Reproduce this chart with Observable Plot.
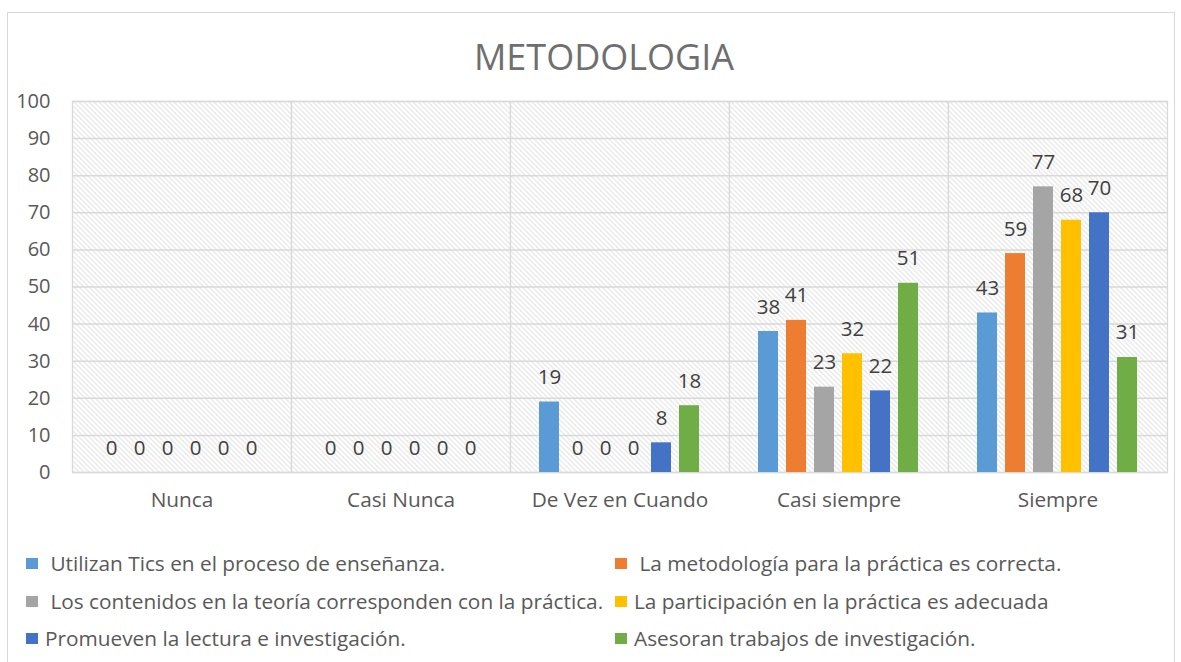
<!DOCTYPE html>
<html>
<head>
<meta charset="utf-8">
<script src="https://cdn.jsdelivr.net/npm/d3@7"></script>
<script src="https://cdn.jsdelivr.net/npm/@observablehq/plot@0.6"></script>
<style>
  body { margin: 0; background: #fff; font-family: "Open Sans", sans-serif; }
  #wrap { position: relative; width: 1181px; height: 662px; overflow: hidden; }
  #border { position: absolute; left: 7px; top: 12px; width: 1168px; height: 700px; border: 1px solid #d9d9d9; box-sizing: border-box; }
  #title { position: absolute; left: 0; width: 1208px; top: 32px; text-align: center; font-size: 36px; line-height: 50px; color: #6f6f6f; font-weight: 400; }
  #chart { position: absolute; left: 0; top: 80px; }
  .leg { position: absolute; display: flex; align-items: center; font-size: 20.8px; color: #595959; white-space: pre; }
  .sw { width: 12px; height: 11px; display: inline-block; margin-right: 7px; }
</style>
</head>
<body>
<div id="wrap">
  <div id="border"></div>
  <div id="title">METODOLOGIA</div>
  <div id="chart"></div>
  <div id="legend"></div>
</div>
<script>
const categories = ["Nunca", "Casi Nunca", "De Vez en Cuando", "Casi siempre", "Siempre"];
const seriesNames = [
  " Utilizan Tics en el proceso de enseñanza.",
  " La metodología para la práctica es correcta.",
  " Los contenidos en la teoría corresponden con la práctica.",
  "La participación en la práctica es adecuada",
  "Promueven la lectura e investigación.",
  "Asesoran trabajos de investigación."
];
const colors = ["#5B9BD5", "#ED7D31", "#A5A5A5", "#FFC000", "#4472C4", "#70AD47"];
const utilizan     = [0, 0, 19, 38, 43];
const metodologia  = [0, 0, 0, 41, 59];
const contenidos   = [0, 0, 0, 23, 77];
const participacion= [0, 0, 0, 32, 68];
const promueven    = [0, 0, 8, 22, 70];
const asesoran     = [0, 0, 18, 51, 31];
const yTicks = [0, 10, 20, 30, 40, 50, 60, 70, 80, 90, 100];

const seriesValues = [utilizan, metodologia, contenidos, participacion, promueven, asesoran];
const rows = [];
categories.forEach((c, ci) => {
  seriesNames.forEach((s, si) => {
    rows.push({cat: c, series: s, value: seriesValues[si][ci]});
  });
});

const chart = Plot.plot({
  width: 1181,
  height: 450,
  marginTop: 21,
  marginBottom: 58,
  marginLeft: 70,
  marginRight: 13,
  style: {fontFamily: "'Open Sans', sans-serif", color: "#595959", background: "transparent"},
  fx: {domain: categories, padding: 0, label: null},
  x: {domain: seriesNames, paddingInner: 0.28, paddingOuter: 0.93, axis: null},
  y: {domain: [0, 100], label: null},
  color: {domain: seriesNames, range: colors},
  marks: [
    Plot.frame({fill: "url(#hatch)", stroke: "#d9d9d9", strokeWidth: 1.3}),
    Plot.ruleY(yTicks, {stroke: "#d9d9d9", strokeWidth: 1.5}),
    Plot.barY(rows, {fx: "cat", x: "series", y: "value", fill: "series"}),
    Plot.text(rows, {fx: "cat", x: "series", y: "value", text: d => String(d.value),
      lineAnchor: "bottom", dy: -18, fill: "#404040", fontSize: 20.5}),
    Plot.axisY(yTicks, {tickSize: 0, tickPadding: 22, fontSize: 20, label: null, fill: "#595959"}),
    Plot.axisFx({anchor: "bottom", tickSize: 0, tickPadding: 20, fontSize: 20.8, label: null, fill: "#595959"})
  ]
});

const defs = d3.select(chart).insert("defs", ":first-child");
const pat = defs.append("pattern").attr("id", "hatch").attr("patternUnits", "userSpaceOnUse")
  .attr("width", 5).attr("height", 5);
pat.append("rect").attr("width", 5).attr("height", 5).attr("fill", "#fff");
pat.append("path").attr("d", "M-1,-1 L6,6 M-1,4 L1,6 M4,-1 L6,1")
  .attr("stroke", "#d4d4d4").attr("stroke-width", 1);

document.getElementById("chart").appendChild(chart);

// legend
const legPos = [
  [26, 563], [615, 563],
  [26, 601], [615, 601],
  [26, 638], [615, 638]
];
const legend = document.getElementById("legend");
seriesNames.forEach((s, i) => {
  const d = document.createElement("div");
  d.className = "leg";
  d.style.left = legPos[i][0] + "px";
  d.style.top = (legPos[i][1] - 13) + "px";
  d.style.height = "26px";
  const sw = document.createElement("span");
  sw.className = "sw";
  sw.style.background = colors[i];
  const t = document.createElement("span");
  t.textContent = s;
  d.appendChild(sw);
  d.appendChild(t);
  legend.appendChild(d);
});
</script>
</body>
</html>
